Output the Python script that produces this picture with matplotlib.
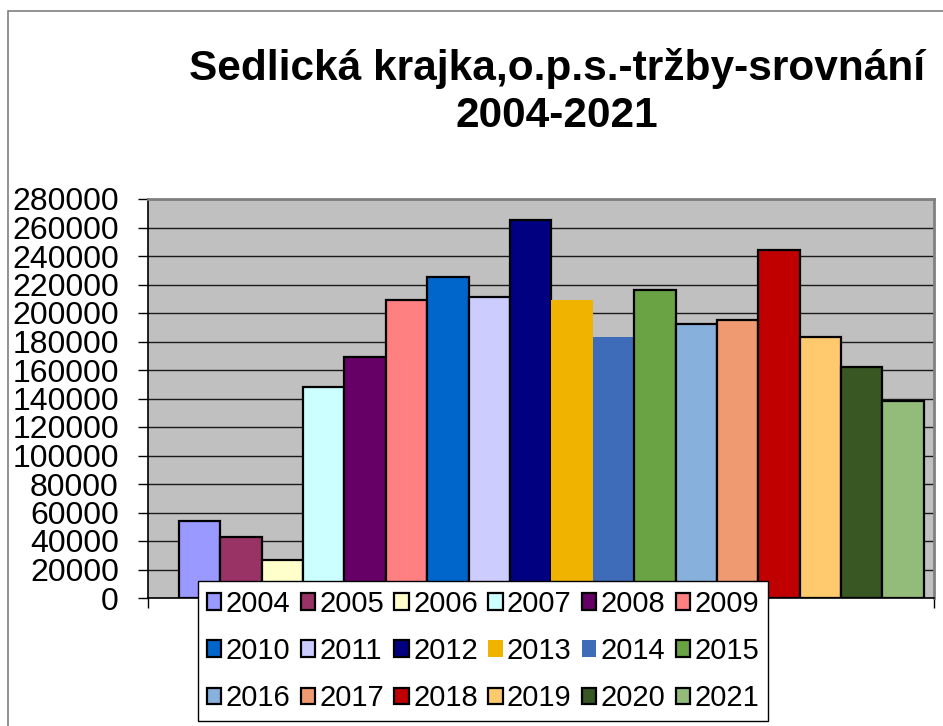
import matplotlib
matplotlib.use('Agg')
import matplotlib.pyplot as plt
from matplotlib.patches import Rectangle

#### DATA #######################################
YEARS = ['2004', '2005', '2006', '2007', '2008', '2009', '2010', '2011', '2012',
         '2013', '2014', '2015', '2016', '2017', '2018', '2019', '2020', '2021']
REVENUE = [54000, 43000, 27000, 148000, 169000, 209000, 225000, 211500, 265000,
           209000, 183000, 216000, 192000, 195000, 244000, 183500, 162000, 138500]
COLORS = ['#9999FF', '#993366', '#FFFFCC', '#CCFFFF', '#660066', '#FF8080',
          '#0066CC', '#CCCCFF', '#000080', '#F0B400', '#3F6CB8', '#6AA343',
          '#87B0DC', '#F09A72', '#C00000', '#FFC96E', '#385723', '#93BB7A']
# 2013 and 2014 are drawn without an outline
OUTLINED = [True] * 9 + [False, False] + [True] * 7

TITLE = 'Sedlická krajka,o.p.s.-tržby-srovnání\n2004-2021'
NCOL = 6

#### PLOT #######################################
plt.rcParams['font.family'] = ['Liberation Sans', 'DejaVu Sans']

fig = plt.figure(figsize=(9.43, 7.26), dpi=100)
ax = fig.add_axes([148 / 943, 1 - 598 / 726, (934 - 148) / 943, (598 - 199) / 726])
ax.set_facecolor('#C0C0C0')

bars = []
for i, (year, val, col, edge) in enumerate(zip(YEARS, REVENUE, COLORS, OUTLINED)):
    b = ax.bar(i, val, width=1.0, color=col, label=year,
               edgecolor='black' if edge else col, linewidth=1.6 if edge else 0,
               zorder=3)
    bars.append(b)

ax.set_xlim(-1.245, len(YEARS) - 0.255)
ax.set_ylim(0, 280000)
ax.set_yticks(range(0, 280001, 20000))
ax.tick_params(axis='y', labelsize=23, length=7, width=1, direction='out', pad=14)
ax.set_xticks([-1.245, len(YEARS) - 0.255])
ax.set_xticklabels([])
ax.tick_params(axis='x', length=7, width=1, direction='out')
ax.yaxis.grid(True, color='#1a1a1a', linewidth=1)
ax.set_axisbelow(True)

ax.spines['left'].set_color('black')
ax.spines['bottom'].set_color('black')
ax.spines['left'].set_linewidth(1.2)
ax.spines['bottom'].set_linewidth(1.2)
ax.spines['top'].set_color('#808080')
ax.spines['right'].set_color('#808080')
ax.spines['top'].set_linewidth(2)
ax.spines['right'].set_linewidth(2)

fig.text(557 / 943, 1 - 92 / 726, TITLE, ha='center', va='center',
         fontsize=30.5, fontweight='bold', linespacing=1.2)

# legend is filled row by row, matplotlib fills column by column
nrow = (len(YEARS) + NCOL - 1) // NCOL
order = [r * NCOL + c for c in range(NCOL) for r in range(nrow)]
leg = fig.legend([bars[k] for k in order], [YEARS[k] for k in order],
                 loc='lower left', bbox_to_anchor=(198 / 943, 1 - 721 / 726,
                                                   (768 - 198) / 943, (721 - 578) / 726),
                 mode='expand', ncol=NCOL, fontsize=21, frameon=True, fancybox=False,
                 edgecolor='black', framealpha=1, handlelength=0.5, handleheight=0.5,
                 handletextpad=0.15, columnspacing=0.1, labelspacing=0.66,
                 borderpad=0.3, borderaxespad=0)
leg.get_frame().set_linewidth(1)

# outer chart frame
fig.patches.append(Rectangle((8 / 943, -0.1), 1.2, 1 - 11 / 726 + 0.1,
                             transform=fig.transFigure, fill=False,
                             edgecolor='#808080', linewidth=1.2))

fig.savefig('out.png', dpi=100)
